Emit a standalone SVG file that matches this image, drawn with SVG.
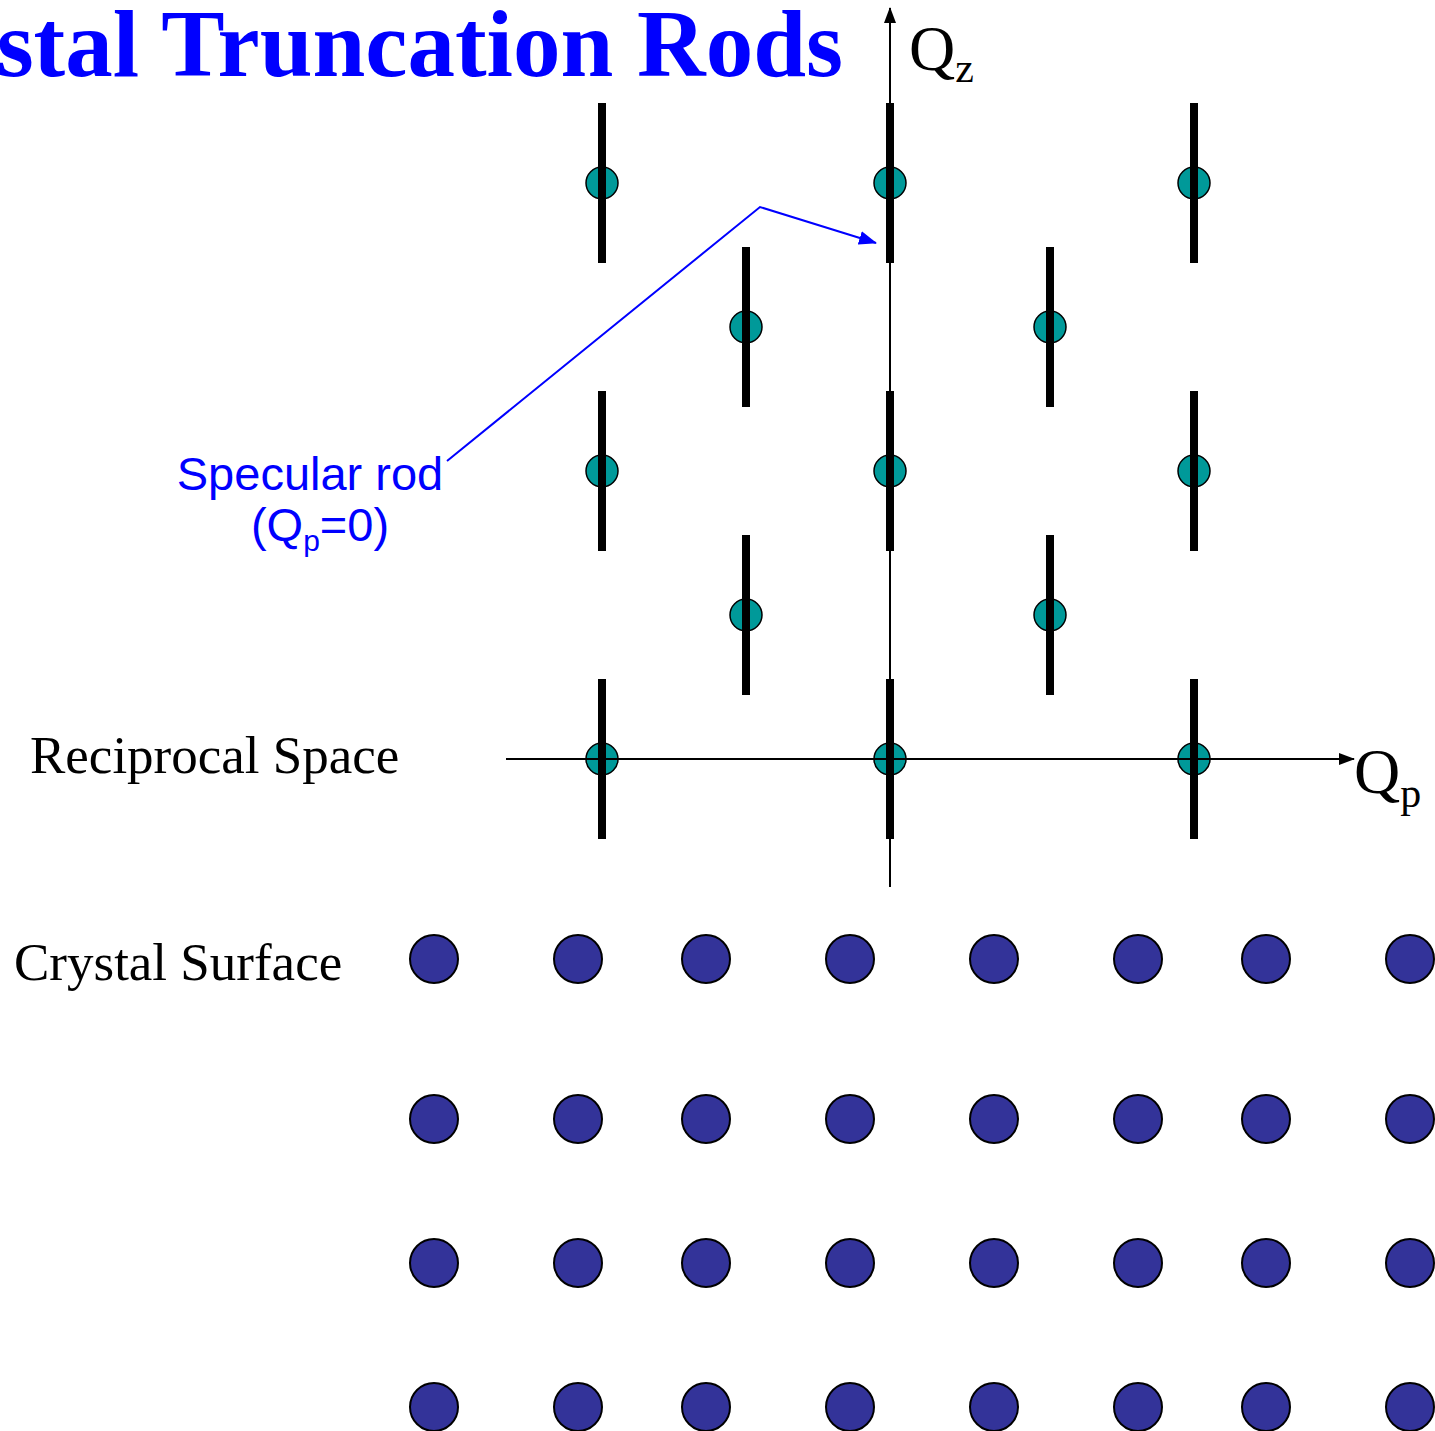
<svg xmlns="http://www.w3.org/2000/svg" width="1435" height="1431" viewBox="0 0 1435 1431">
<style>
.title{font-family:"Liberation Serif",serif;font-weight:bold;font-size:95px;fill:#0000FF}
.lbl{font-family:"Liberation Serif",serif;font-size:53px;fill:#000}
.q{font-family:"Liberation Serif",serif;font-size:64px;fill:#000}
.sub{font-size:42px}
.blue{font-family:"Liberation Sans",Arial,sans-serif;font-size:47px;fill:#0000FF}
.bsub{font-size:30px}
.spot{fill:#009999;stroke:#000;stroke-width:1.5}
.rod{stroke:#000;stroke-width:8}
.atom{fill:#333399;stroke:#000;stroke-width:2}
.axis{stroke:#000;stroke-width:2;fill:none}
</style>
<defs>
<marker id="ah" markerUnits="userSpaceOnUse" markerWidth="16" markerHeight="12" refX="15" refY="6" orient="auto">
<path d="M0,0 L16,6 L0,12 Z" fill="#000"/>
</marker>
<marker id="bh" markerUnits="userSpaceOnUse" markerWidth="18" markerHeight="14" refX="17" refY="7" orient="auto">
<path d="M0,0 L18,7 L0,14 Z" fill="#0000FF"/>
</marker>
</defs>
<rect width="1435" height="1431" fill="#fff"/>
<text class="title" x="843" y="76" text-anchor="end">stal Truncation Rods</text>

<g id="lattice">
<g id="spots">
<circle class="spot" cx="602" cy="183" r="16"/><circle class="spot" cx="890" cy="183" r="16"/><circle class="spot" cx="1194" cy="183" r="16"/>
<circle class="spot" cx="746" cy="327" r="16"/><circle class="spot" cx="1050" cy="327" r="16"/>
<circle class="spot" cx="602" cy="471" r="16"/><circle class="spot" cx="890" cy="471" r="16"/><circle class="spot" cx="1194" cy="471" r="16"/>
<circle class="spot" cx="746" cy="615" r="16"/><circle class="spot" cx="1050" cy="615" r="16"/>
<circle class="spot" cx="602" cy="759" r="16"/><circle class="spot" cx="890" cy="759" r="16"/><circle class="spot" cx="1194" cy="759" r="16"/>
</g>
<g id="rods">
<line class="rod" x1="602" y1="103" x2="602" y2="263"/><line class="rod" x1="890" y1="103" x2="890" y2="263"/><line class="rod" x1="1194" y1="103" x2="1194" y2="263"/>
<line class="rod" x1="746" y1="247" x2="746" y2="407"/><line class="rod" x1="1050" y1="247" x2="1050" y2="407"/>
<line class="rod" x1="602" y1="391" x2="602" y2="551"/><line class="rod" x1="890" y1="391" x2="890" y2="551"/><line class="rod" x1="1194" y1="391" x2="1194" y2="551"/>
<line class="rod" x1="746" y1="535" x2="746" y2="695"/><line class="rod" x1="1050" y1="535" x2="1050" y2="695"/>
<line class="rod" x1="602" y1="679" x2="602" y2="839"/><line class="rod" x1="890" y1="679" x2="890" y2="839"/><line class="rod" x1="1194" y1="679" x2="1194" y2="839"/>
</g>
</g>

<g id="connectors">
<line class="axis" x1="890" y1="887" x2="890" y2="8" marker-end="url(#ah)"/>
<line class="axis" x1="506" y1="759" x2="1354" y2="759" marker-end="url(#ah)"/>
<polyline points="447,461 760,207 876,243" fill="none" stroke="#0000FF" stroke-width="2" marker-end="url(#bh)"/>
</g>

<g id="axis-labels">
<text class="q" x="909" y="70">Q<tspan class="sub" dy="12">z</tspan></text>
<text class="q" x="1354" y="793">Q<tspan class="sub" dy="14">p</tspan></text>
</g>

<g id="specular-label">
<text class="blue" x="310" y="490" text-anchor="middle">Specular rod</text>
<text class="blue" x="320" y="541" text-anchor="middle">(Q<tspan class="bsub" dy="10">p</tspan><tspan dy="-10">=0)</tspan></text>
</g>

<text class="lbl" x="30" y="773">Reciprocal Space</text>
<text class="lbl" x="14" y="980">Crystal Surface</text>

<g id="crystal">
<g id="row1">
<circle class="atom" cx="434" cy="959" r="24"/><circle class="atom" cx="578" cy="959" r="24"/><circle class="atom" cx="706" cy="959" r="24"/><circle class="atom" cx="850" cy="959" r="24"/><circle class="atom" cx="994" cy="959" r="24"/><circle class="atom" cx="1138" cy="959" r="24"/><circle class="atom" cx="1266" cy="959" r="24"/><circle class="atom" cx="1410" cy="959" r="24"/>
</g>
<g id="row2">
<circle class="atom" cx="434" cy="1119" r="24"/><circle class="atom" cx="578" cy="1119" r="24"/><circle class="atom" cx="706" cy="1119" r="24"/><circle class="atom" cx="850" cy="1119" r="24"/><circle class="atom" cx="994" cy="1119" r="24"/><circle class="atom" cx="1138" cy="1119" r="24"/><circle class="atom" cx="1266" cy="1119" r="24"/><circle class="atom" cx="1410" cy="1119" r="24"/>
</g>
<g id="row3">
<circle class="atom" cx="434" cy="1263" r="24"/><circle class="atom" cx="578" cy="1263" r="24"/><circle class="atom" cx="706" cy="1263" r="24"/><circle class="atom" cx="850" cy="1263" r="24"/><circle class="atom" cx="994" cy="1263" r="24"/><circle class="atom" cx="1138" cy="1263" r="24"/><circle class="atom" cx="1266" cy="1263" r="24"/><circle class="atom" cx="1410" cy="1263" r="24"/>
</g>
<g id="row4">
<circle class="atom" cx="434" cy="1407" r="24"/><circle class="atom" cx="578" cy="1407" r="24"/><circle class="atom" cx="706" cy="1407" r="24"/><circle class="atom" cx="850" cy="1407" r="24"/><circle class="atom" cx="994" cy="1407" r="24"/><circle class="atom" cx="1138" cy="1407" r="24"/><circle class="atom" cx="1266" cy="1407" r="24"/><circle class="atom" cx="1410" cy="1407" r="24"/>
</g>
</g>
</svg>
